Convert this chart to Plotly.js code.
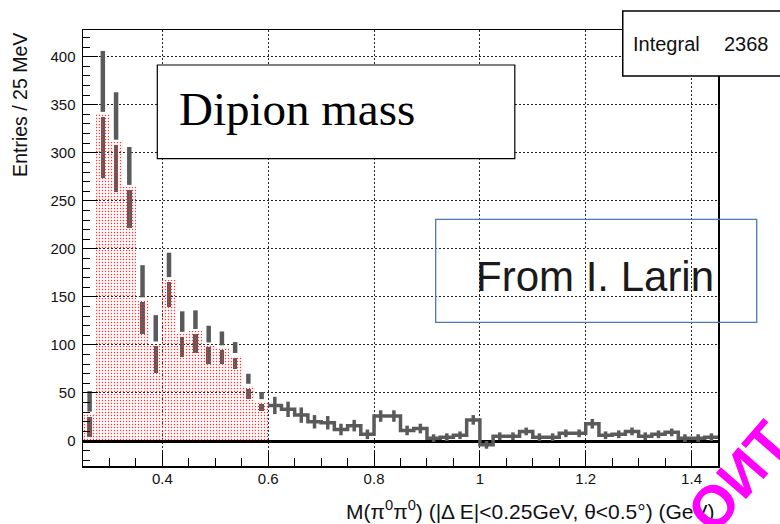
<!DOCTYPE html>
<html>
<head>
<meta charset="utf-8">
<script src="https://cdn.plot.ly/plotly-3.0.1.min.js"></script>
<style>html,body{margin:0;padding:0;background:#fff;} #chart{width:780px;height:524px;}</style>
</head>
<body>
<div id="chart"></div>
<script>
// ---- data ----
const binWidth = 0.025;          // 25 MeV bins
const lowStart = 0.25;           // red (signal window) histogram starts here
const tailStart = 0.6;           // grey histogram starts here
const lowValues = [28, 340, 311, 264, 147, 101, 168, 111, 114, 100, 97, 89, 57, 41];
const lowErrors = [24, 66, 52, 42, 36, 30, 28, 24, 22, 20, 17, 14, 13, 10];
const tailValues = [37, 33, 27, 20, 19, 12, 16, 7, 26, 26, 11, 13, 3, 4, 6, 22, -4, 5, 5, 10, 4, 4, 8, 8, 18, 6, 7, 10, 5, 7, 9, 3, 3, 4];
const tailErrors = [9, 8, 8, 7, 7, 6, 6, 5, 6, 6, 5, 5, 4, 4, 4, 5, 4, 4, 4, 4, 4, 4, 4, 4, 5, 4, 4, 4, 4, 4, 4, 4, 4, 4];
const xTickVals = [0.4, 0.6, 0.8, 1.0, 1.2, 1.4];
const xTickText = ['0.4', '0.6', '0.8', '1', '1.2', '1.4'];
const yTickVals = [0, 50, 100, 150, 200, 250, 300, 350, 400];
const integralLabel = 'Integral';
const integralValue = '2368';

// ---- derived ----
const gap = 2.6; // marker gap in error bars (ROOT style)
const lowCenters = lowValues.map((_, i) => lowStart + binWidth * (i + 0.5));
const tailCenters = tailValues.map((_, i) => tailStart + binWidth * (i + 0.5));
const tailEdges = tailValues.map((_, i) => tailStart + binWidth * i).concat([tailStart + binWidth * tailValues.length]);
const tailStepY = tailValues.concat([tailValues[tailValues.length - 1]]);
const zeros = lowValues.map(() => 0);
const grey = '#5a5a5a';

const traces = [
  { // lower halves of error bars (under the red pattern)
    type: 'bar', x: lowCenters, y: lowValues.map(v => v - gap), width: binWidth,
    marker: { color: 'rgba(0,0,0,0)', line: { width: 0 } },
    error_y: { type: 'data', symmetric: false, array: zeros, arrayminus: lowErrors.map(e => e - gap),
               color: grey, thickness: 4.5, width: 0 },
    hoverinfo: 'skip', showlegend: false
  },
  { // red dotted histogram
    type: 'bar', x: lowCenters, y: lowValues, width: binWidth,
    marker: { color: 'red', line: { width: 0 },
              pattern: { shape: '.', fgcolor: '#ff3030', size: 3, solidity: 0.2, fillmode: 'replace' } },
    showlegend: false
  },
  { // upper halves of error bars
    type: 'scatter', mode: 'markers', x: lowCenters, y: lowValues.map(v => v + gap),
    marker: { size: 1, color: 'rgba(0,0,0,0)' },
    error_y: { type: 'data', symmetric: false, array: lowErrors.map(e => e - gap), arrayminus: zeros,
               color: grey, thickness: 4.5, width: 0 },
    hoverinfo: 'skip', showlegend: false
  },
  { // grey step histogram
    type: 'scatter', mode: 'lines', x: tailEdges, y: tailStepY,
    line: { shape: 'hv', color: grey, width: 3.5 }, showlegend: false
  },
  { // grey error bars
    type: 'scatter', mode: 'markers', x: tailCenters, y: tailValues,
    marker: { size: 1, color: 'rgba(0,0,0,0)' },
    error_y: { type: 'data', array: tailErrors, color: grey, thickness: 3.5, width: 0 },
    hoverinfo: 'skip', showlegend: false
  }
];

const layout = {
  width: 780, height: 524,
  margin: { l: 83, r: 62, t: 30, b: 58 },
  paper_bgcolor: '#ffffff', plot_bgcolor: '#ffffff',
  font: { family: 'Liberation Sans, Arial, sans-serif', size: 15, color: '#111' },
  barmode: 'overlay', bargap: 0,
  showlegend: false,
  xaxis: {
    range: [0.25, 1.45], tickvals: xTickVals, ticktext: xTickText,
    ticks: 'inside', ticklen: 15, tickwidth: 1, tickcolor: '#000',
    minor: { dtick: 0.05, tick0: 0, ticks: 'inside', ticklen: 8, tickcolor: '#000', showgrid: false },
    showgrid: true, gridcolor: '#222', gridwidth: 1, griddash: '1.5px,2.5px',
    showline: true, linecolor: '#000', linewidth: 1.5, mirror: true,
    zeroline: false, tickfont: { size: 15 }, ticklabelstandoff: -2
  },
  yaxis: {
    range: [-26, 427.8], tickvals: yTickVals,
    ticks: 'inside', ticklen: 15, tickwidth: 1, tickcolor: '#000',
    minor: { dtick: 10, tick0: 0, ticks: 'inside', ticklen: 7, tickcolor: '#000', showgrid: false },
    showgrid: true, gridcolor: '#222', gridwidth: 1, griddash: '1.5px,2.5px',
    showline: true, linecolor: '#000', linewidth: 1.5, mirror: true,
    zeroline: true, zerolinecolor: '#000', zerolinewidth: 3,
    ticklabelstandoff: 3, tickfont: { size: 15 }
  },
  shapes: [
    { type: 'rect', xref: 'paper', yref: 'paper', x0: 0.850, x1: 1.12, y0: 0.8945, y1: 1.0436,
      fillcolor: '#fff', line: { color: '#000', width: 1.5 }, layer: 'above' },
    { type: 'rect', xref: 'paper', yref: 'paper', x0: 0.117, x1: 0.680, y0: 0.7048, y1: 0.9197,
      fillcolor: '#fff', line: { color: '#000', width: 1.2 }, layer: 'above' },
    { type: 'rect', xref: 'paper', yref: 'paper', x0: 0.5554, x1: 1.061, y0: 0.3296, y1: 0.5658,
      fillcolor: 'rgba(0,0,0,0)', line: { color: '#4a78b8', width: 1.3 }, layer: 'above' }
  ],
  annotations: [
    { xref: 'paper', yref: 'paper', x: 0.8630, y: 0.968, xanchor: 'left', yanchor: 'middle',
      text: integralLabel, showarrow: false, font: { size: 20, color: '#111' } },
    { xref: 'paper', yref: 'paper', x: 1.0060, y: 0.968, xanchor: 'left', yanchor: 'middle',
      text: integralValue, showarrow: false, font: { size: 20, color: '#111' } },
    { xref: 'paper', yref: 'paper', x: (177 - 83) / 635, y: 0.819, xanchor: 'left', yanchor: 'middle',
      text: 'Dipion mass', showarrow: false,
      font: { family: 'Liberation Serif, Times New Roman, serif', size: 47, color: '#000' } },
    { xref: 'paper', yref: 'paper', x: (474 - 83) / 635, y: 0.434, xanchor: 'left', yanchor: 'middle',
      text: 'From I. Larin', showarrow: false, font: { size: 42, color: '#1a1a1a' } },
    { xref: 'paper', yref: 'paper', x: -0.0992, y: 0.998, xanchor: 'center', yanchor: 'top',
      text: 'Entries / 25 MeV', textangle: -90, showarrow: false, font: { size: 19.5, color: '#111' } },
    { xref: 'paper', yref: 'paper', x: 0.998, y: -0.101, xanchor: 'right', yanchor: 'middle',
      text: 'M(π<sup>0</sup>π<sup>0</sup>) (|Δ E|&lt;0.25GeV, θ&lt;0.5°) (GeV)', showarrow: false,
      font: { size: 21, color: '#111' } },
    { xref: 'paper', yref: 'paper', x: 1.032, y: -0.023, xanchor: 'center', yanchor: 'middle',
      text: '<b>ОИТ</b>', textangle: -49, showarrow: false,
      font: { family: 'Liberation Sans, Arial, sans-serif', size: 58, color: '#ff00ff' } }
  ]
};

Plotly.newPlot('chart', traces, layout, { staticPlot: true, displayModeBar: false });
</script>
</body>
</html>
